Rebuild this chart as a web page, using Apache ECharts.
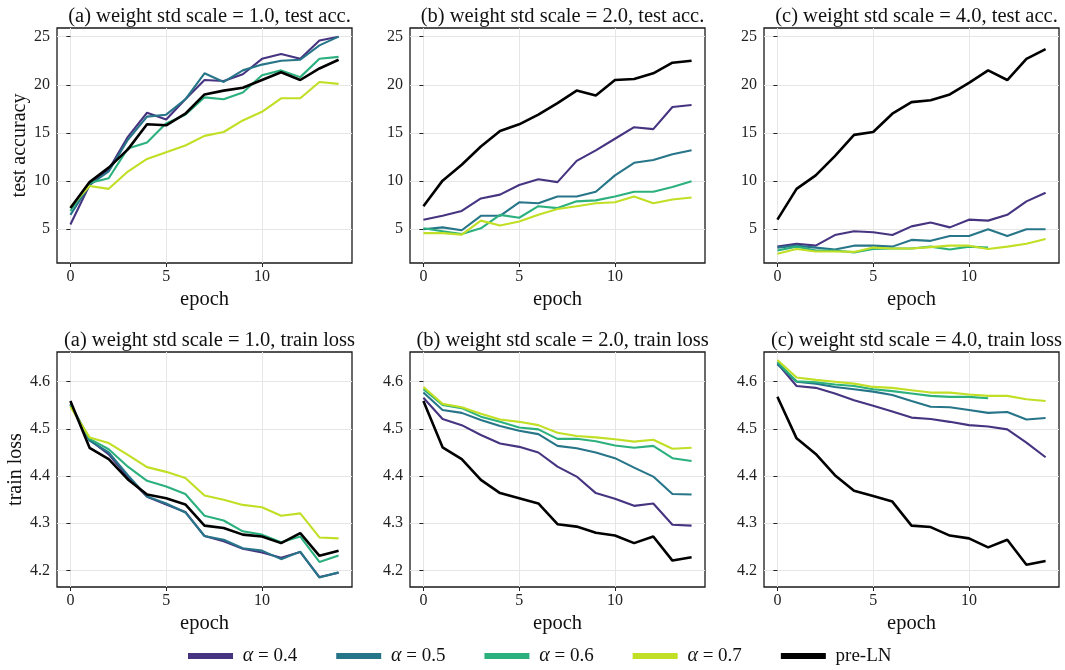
<!DOCTYPE html>
<html>
<head>
<meta charset="utf-8">
<title>weight std scale</title>
<script src="https://cdn.jsdelivr.net/npm/echarts@6/dist/echarts.min.js"></script>
<style>
  html, body { margin: 0; padding: 0; background: #fff; }
  #chart { width: 1065px; height: 670px; }
</style>
</head>
<body>
<div id="chart"></div>
<script>
const epochs = [0, 1, 2, 3, 4, 5, 6, 7, 8, 9, 10, 11, 12, 13, 14]
const xTicks = [0, 5, 10]
const accTicks = [5, 10, 15, 20, 25]
const lossTicks = [4.2, 4.3, 4.4, 4.5, 4.6]

const seriesNames = ['α = 0.4', 'α = 0.5', 'α = 0.6', 'α = 0.7', 'pre-LN']
const colors = ['#463480', '#277589', '#2cb17e', '#c0df25', '#000000']

const panelTitles = [
  '(a) weight std scale = 1.0, test acc.',
  '(b) weight std scale = 2.0, test acc.',
  '(c) weight std scale = 4.0, test acc.',
  '(a) weight std scale = 1.0, train loss',
  '(b) weight std scale = 2.0, train loss',
  '(c) weight std scale = 4.0, train loss',
]

// test accuracy, scale 1.0
const acc1_a04 = [5.5, 9.6, 11.2, 14.6, 17.1, 16.4, 18.5, 20.5, 20.4, 21.1, 22.7, 23.2, 22.7, 24.6, 25.0]
const acc1_a05 = [6.5, 9.6, 11.0, 14.3, 16.7, 16.9, 18.5, 21.2, 20.3, 21.5, 22.1, 22.5, 22.6, 24.1, 25.0]
const acc1_a06 = [6.9, 9.8, 10.3, 13.4, 14.0, 16.0, 16.9, 18.7, 18.5, 19.2, 21.0, 21.5, 20.8, 22.7, 22.9]
const acc1_a07 = [7.3, 9.5, 9.2, 11.0, 12.3, 13.0, 13.7, 14.7, 15.1, 16.3, 17.2, 18.6, 18.6, 20.3, 20.1]
const acc1_pre = [7.2, 9.9, 11.4, 13.3, 15.9, 15.8, 17.0, 19.0, 19.4, 19.7, 20.5, 21.3, 20.5, 21.7, 22.6]

// test accuracy, scale 2.0
const acc2_a04 = [6.0, 6.4, 6.9, 8.2, 8.6, 9.6, 10.2, 9.9, 12.1, 13.2, 14.4, 15.6, 15.4, 17.7, 17.9]
const acc2_a05 = [5.0, 5.2, 4.9, 6.4, 6.4, 7.8, 7.7, 8.4, 8.4, 8.9, 10.6, 11.9, 12.2, 12.8, 13.2]
const acc2_a06 = [5.1, 4.8, 4.5, 5.1, 6.5, 6.2, 7.4, 7.2, 7.9, 8.0, 8.4, 8.9, 8.9, 9.4, 10.0]
const acc2_a07 = [4.6, 4.6, 4.45, 5.9, 5.4, 5.8, 6.5, 7.1, 7.4, 7.7, 7.8, 8.4, 7.7, 8.1, 8.3]
const acc2_pre = [7.4, 10.05, 11.7, 13.6, 15.2, 15.9, 16.9, 18.1, 19.4, 18.9, 20.5, 20.6, 21.2, 22.3, 22.5]

// test accuracy, scale 4.0
const acc4_a04 = [3.2, 3.5, 3.3, 4.4, 4.8, 4.7, 4.4, 5.3, 5.7, 5.2, 6.0, 5.9, 6.5, 7.9, 8.8]
const acc4_a05 = [3.1, 3.3, 3.1, 2.9, 3.3, 3.3, 3.2, 3.9, 3.8, 4.3, 4.3, 5.0, 4.3, 5.0, 5.0]
const acc4_a06 = [2.8, 3.2, 2.8, 2.8, 2.6, 2.95, 3.0, 3.0, 3.2, 2.9, 3.2, 3.1]
const acc4_a07 = [2.45, 2.95, 2.7, 2.7, 2.65, 3.1, 3.0, 3.0, 3.15, 3.3, 3.3, 2.95, 3.2, 3.5, 4.0]
const acc4_pre = [6.0, 9.2, 10.6, 12.6, 14.8, 15.1, 17.0, 18.2, 18.4, 19.0, 20.2, 21.5, 20.5, 22.7, 23.7]

// train loss, scale 1.0
const loss1_a04 = [4.553, 4.477, 4.446, 4.398, 4.356, 4.340, 4.324, 4.273, 4.262, 4.246, 4.238, 4.227, 4.239, 4.186, 4.195]
const loss1_a05 = [4.551, 4.475, 4.450, 4.402, 4.357, 4.342, 4.323, 4.273, 4.265, 4.247, 4.242, 4.224, 4.240, 4.185, 4.196]
const loss1_a06 = [4.551, 4.479, 4.457, 4.420, 4.390, 4.378, 4.362, 4.316, 4.306, 4.283, 4.276, 4.260, 4.272, 4.218, 4.232]
const loss1_a07 = [4.547, 4.482, 4.470, 4.445, 4.419, 4.409, 4.396, 4.359, 4.350, 4.339, 4.334, 4.316, 4.321, 4.270, 4.268]
const loss1_pre = [4.559, 4.460, 4.436, 4.393, 4.361, 4.353, 4.340, 4.295, 4.290, 4.276, 4.272, 4.258, 4.279, 4.231, 4.242]

// train loss, scale 2.0
const loss2_a04 = [4.566, 4.521, 4.508, 4.487, 4.469, 4.462, 4.450, 4.420, 4.399, 4.364, 4.352, 4.337, 4.342, 4.297, 4.295]
const loss2_a05 = [4.577, 4.540, 4.534, 4.519, 4.506, 4.496, 4.489, 4.464, 4.459, 4.450, 4.438, 4.418, 4.399, 4.362, 4.361]
const loss2_a06 = [4.584, 4.551, 4.544, 4.526, 4.515, 4.503, 4.499, 4.479, 4.479, 4.474, 4.465, 4.460, 4.464, 4.438, 4.432]
const loss2_a07 = [4.589, 4.553, 4.546, 4.532, 4.520, 4.515, 4.508, 4.492, 4.485, 4.482, 4.478, 4.473, 4.477, 4.458, 4.460]
const loss2_pre = [4.559, 4.461, 4.436, 4.392, 4.364, 4.353, 4.342, 4.298, 4.293, 4.280, 4.274, 4.258, 4.272, 4.221, 4.228]

// train loss, scale 4.0
const loss4_a04 = [4.639, 4.591, 4.587, 4.575, 4.561, 4.549, 4.537, 4.524, 4.521, 4.515, 4.508, 4.505, 4.499, 4.471, 4.440]
const loss4_a05 = [4.637, 4.600, 4.596, 4.589, 4.584, 4.579, 4.572, 4.559, 4.547, 4.546, 4.540, 4.534, 4.536, 4.520, 4.523]
const loss4_a06 = [4.642, 4.601, 4.599, 4.594, 4.591, 4.584, 4.580, 4.575, 4.570, 4.568, 4.568, 4.565]
const loss4_a07 = [4.646, 4.609, 4.604, 4.600, 4.596, 4.589, 4.587, 4.582, 4.577, 4.577, 4.573, 4.570, 4.570, 4.563, 4.559]
const loss4_pre = [4.568, 4.480, 4.447, 4.402, 4.369, 4.358, 4.346, 4.295, 4.292, 4.274, 4.268, 4.249, 4.265, 4.212, 4.220]

const panelData = [
  [acc1_a04, acc1_a05, acc1_a06, acc1_a07, acc1_pre],
  [acc2_a04, acc2_a05, acc2_a06, acc2_a07, acc2_pre],
  [acc4_a04, acc4_a05, acc4_a06, acc4_a07, acc4_pre],
  [loss1_a04, loss1_a05, loss1_a06, loss1_a07, loss1_pre],
  [loss2_a04, loss2_a05, loss2_a06, loss2_a07, loss2_pre],
  [loss4_a04, loss4_a05, loss4_a06, loss4_a07, loss4_pre],
]

const font = '"Liberation Serif", "DejaVu Serif", serif'
const colLeft = [57, 410, 764]
const rowTop = [28, 352]
const gw = 295
const gh = 235

const grids = []
const titles = []
const xAxes = []
const yAxes = []
const series = []

for (let p = 0; p < 6; p++) {
  const col = p % 3
  const row = Math.floor(p / 3)
  const isAcc = row === 0
  grids.push({
    left: colLeft[col], top: rowTop[row], width: gw, height: gh,
    show: true, borderColor: '#1a1a1a', borderWidth: 1.3, backgroundColor: 'transparent',
  })
  titles.push({
    text: panelTitles[p],
    left: colLeft[col] + gw / 2,
    top: rowTop[row] - 27,
    textAlign: 'center',
    textStyle: { fontFamily: font, fontSize: 20.5, fontWeight: 'normal', color: '#111' },
  })
  xAxes.push({
    gridIndex: p, type: 'value', min: -0.7, max: 14.7,
    name: 'epoch', nameLocation: 'middle', nameGap: 26,
    nameTextStyle: { fontFamily: font, fontSize: 20.5, color: '#111' },
    axisLine: { show: false },
    axisTick: { show: true, customValues: xTicks, length: 4, lineStyle: { color: '#222' } },
    axisLabel: { customValues: xTicks, fontFamily: font, fontSize: 16, color: '#222', margin: 6 },
    splitLine: { show: true, lineStyle: { color: '#e6e6e6', width: 1 } },
  })
  const yTicks = isAcc ? accTicks : lossTicks
  yAxes.push({
    gridIndex: p, type: 'value',
    min: isAcc ? 1.5 : 4.165, max: isAcc ? 25.9 : 4.663,
    name: col === 0 ? (isAcc ? 'test accuracy' : 'train loss') : '',
    nameLocation: 'middle', nameGap: 27,
    nameTextStyle: { fontFamily: font, fontSize: 20, color: '#111' },
    axisLine: { show: false },
    axisTick: { show: true, customValues: yTicks, length: 4, lineStyle: { color: '#222' } },
    axisLabel: {
      customValues: yTicks, fontFamily: font, fontSize: 16, color: '#222', margin: 7,
      formatter: (v) => (isAcc ? String(Math.round(v)) : v.toFixed(1)),
    },
    splitLine: { show: true, lineStyle: { color: '#e6e6e6', width: 1 } },
  })
  panelData[p].forEach((vals, k) => {
    series.push({
      name: seriesNames[k],
      type: 'line',
      xAxisIndex: p,
      yAxisIndex: p,
      data: vals.map((v, i) => [epochs[i], v]),
      showSymbol: false,
      symbol: 'none',
      lineStyle: { color: colors[k], width: k === 4 ? 2.6 : 2.1 },
      itemStyle: { color: colors[k] },
      animation: false,
      z: 2 + k,
    })
  })
}

const chart = echarts.init(document.getElementById('chart'))
chart.setOption({
  backgroundColor: '#fff',
  animation: false,
  title: titles,
  grid: grids,
  xAxis: xAxes,
  yAxis: yAxes,
  legend: {
    data: seriesNames,
    left: 183,
    top: 641,
    icon: 'rect',
    itemWidth: 45,
    itemHeight: 6,
    itemGap: 39,
    formatter: (name) => (name.startsWith('α') ? ' {i|α}' + name.slice(1) : ' ' + name),
    textStyle: {
      fontFamily: font, fontSize: 19, color: '#111',
      rich: { i: { fontFamily: font, fontSize: 20, fontStyle: 'italic', color: '#111' } },
    },
  },
  series: series,
})
</script>
</body>
</html>
